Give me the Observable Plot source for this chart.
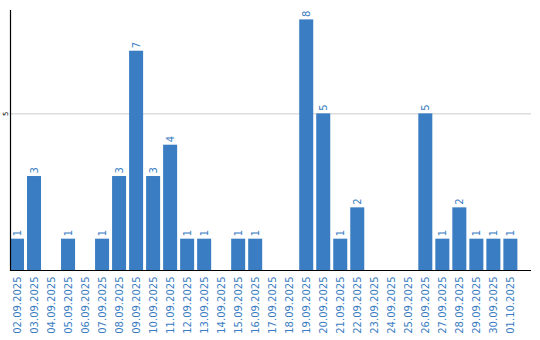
<!DOCTYPE html>
<html>
<head>
<meta charset="utf-8">
<script src="https://cdn.jsdelivr.net/npm/d3@7"></script>
<script src="https://cdn.jsdelivr.net/npm/@observablehq/plot@0.6"></script>
<style>
  html, body { margin: 0; padding: 0; background: #fff; }
</style>
</head>
<body>
<div id="chart"></div>
<script>
const dates = ["02.09.2025","03.09.2025","04.09.2025","05.09.2025","06.09.2025","07.09.2025","08.09.2025","09.09.2025","10.09.2025","11.09.2025","12.09.2025","13.09.2025","14.09.2025","15.09.2025","16.09.2025","17.09.2025","18.09.2025","19.09.2025","20.09.2025","21.09.2025","22.09.2025","23.09.2025","24.09.2025","25.09.2025","26.09.2025","27.09.2025","28.09.2025","29.09.2025","30.09.2025","01.10.2025"];
const counts = [1,3,0,1,0,1,3,7,3,4,1,1,0,1,1,0,0,8,5,1,2,0,0,0,5,1,2,1,1,1];
const yTicks = [5];

const data = dates.map((d, i) => ({date: d, count: counts[i]}));
const blue = "#3a7dc2";

const chart = Plot.plot({
  width: 540,
  height: 340,
  marginLeft: 10,
  marginRight: 9,
  marginTop: 10,
  marginBottom: 70,
  style: {fontFamily: "'DejaVu Sans', sans-serif", fontSize: "10px", background: "#fff"},
  x: {type: "band", domain: dates, paddingInner: 0.176, paddingOuter: 0.4, align: 0, round: false},
  y: {domain: [0, 8.3]},
  marks: [
    Plot.ruleY(yTicks, {stroke: "#cccccc", strokeWidth: 1}),
    Plot.barY(data, {x: "date", y: "count", fill: blue}),
    Plot.text(data.filter(d => d.count > 0), {x: "date", y: "count", text: d => String(d.count), rotate: -90, textAnchor: "start", lineAnchor: "middle", dy: -3, fill: blue, fontSize: 10}),
    Plot.ruleY([0], {stroke: "black", strokeWidth: 1.2}),
    Plot.frame({anchor: "left", stroke: "black", strokeWidth: 1.2}),
    Plot.axisX({tickRotate: -90, tickSize: 0, tickPadding: 6, fill: blue, label: null, fontSize: 10}),
    Plot.axisY(yTicks, {tickSize: 0, tickPadding: 3, tickRotate: -90, fontSize: 7, label: null, fill: "black"})
  ]
});
document.getElementById("chart").appendChild(chart);
</script>
</body>
</html>
